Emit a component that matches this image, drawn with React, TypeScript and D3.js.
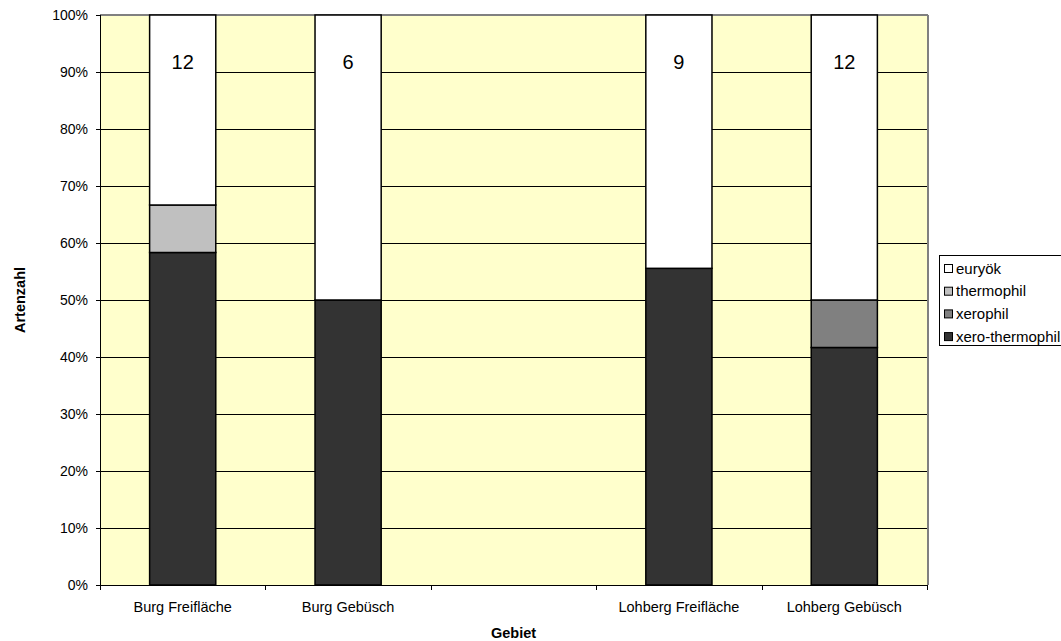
import React from "react";
import * as d3 from "d3";

const categories = ["Burg Freifläche", "Burg Gebüsch", "", "Lohberg Freifläche", "Lohberg Gebüsch"];
const seriesNames = ["xero-thermophil", "xerophil", "thermophil", "euryök"];
const xeroThermophil = [7, 3, 0, 5, 5];
const xerophil = [0, 0, 0, 0, 1];
const thermophil = [1, 0, 0, 0, 0];
const euryoek = [4, 3, 0, 4, 6];
const yTicks = [0, 0.1, 0.2, 0.3, 0.4, 0.5, 0.6, 0.7, 0.8, 0.9, 1];
const colors = ["#333333", "#808080", "#C0C0C0", "#FFFFFF"];

const FONT = "'Liberation Sans', Arial, sans-serif";

export default function App() {
  const W = 1061, H = 641;
  const left = 100, right = 927, top = 15, bottom = 585;
  const series = [xeroThermophil, xerophil, thermophil, euryoek];
  const rows = categories.map((c, i) => {
    const r: any = { cat: c, idx: i };
    seriesNames.forEach((s, k) => (r[s] = series[k][i]));
    return r;
  });
  const totals = categories.map((_, i) => series.reduce((a, s) => a + s[i], 0));
  const norm = rows.map((r, i) => {
    const o: any = { cat: r.cat, idx: i };
    seriesNames.forEach((s) => (o[s] = totals[i] ? r[s] / totals[i] : 0));
    return o;
  });
  const stacked = d3.stack<any>().keys(seriesNames)(norm);

  const x = d3.scaleBand<number>().domain(categories.map((_, i) => i)).range([left, right]).paddingInner(0).paddingOuter(0);
  const bw = x.bandwidth() * 0.4;
  const y = d3.scaleLinear().domain([0, 1]).range([bottom, top]);

  const legendItems = seriesNames.map((s, k) => ({ s, c: colors[k] })).reverse();

  return (
    <svg width={W} height={H} style={{ position: "absolute", left: 0, top: 0 }} fontFamily={FONT}>
      <rect x={0} y={0} width={W} height={H} fill="#fff" />
      <rect x={left} y={top} width={right - left} height={bottom - top} fill="#FFFFCC" />
      {yTicks.filter((t) => t > 0 && t < 1).map((t) => (
        <line key={t} x1={left} x2={right} y1={Math.round(y(t)) + 0.5} y2={Math.round(y(t)) + 0.5} stroke="#000" strokeWidth={1} />
      ))}
      <line x1={left} x2={right + 1} y1={top} y2={top} stroke="#808080" strokeWidth={2} />
      <line x1={right + 1} x2={right + 1} y1={top} y2={bottom} stroke="#808080" strokeWidth={2} />
      {stacked.map((layer, k) => (
        <g key={layer.key}>
          {layer.map((d: any, i: number) =>
            totals[i] && d[1] - d[0] > 0 ? (
              <rect
                key={i}
                x={(x(i) as number) + (x.bandwidth() - bw) / 2}
                y={y(d[1])}
                width={bw}
                height={y(d[0]) - y(d[1])}
                fill={colors[k]}
                stroke="#000"
                strokeWidth={1.5}
              />
            ) : null
          )}
        </g>
      ))}
      {totals.map((t, i) =>
        t ? (
          <text key={i} x={(x(i) as number) + x.bandwidth() / 2} y={y(1) + 54} textAnchor="middle" fontSize={20} fill="#000">
            {t}
          </text>
        ) : null
      )}
      <line x1={left + 0.5} x2={left + 0.5} y1={top} y2={bottom} stroke="#000" />
      <line x1={left} x2={right + 1} y1={bottom + 0.5} y2={bottom + 0.5} stroke="#000" />
      {yTicks.map((t) => (
        <g key={t}>
          <line x1={left - 4} x2={left} y1={Math.round(y(t)) + 0.5} y2={Math.round(y(t)) + 0.5} stroke="#000" />
          <text x={88} y={y(t) + 5} textAnchor="end" fontSize={14} fill="#000">
            {Math.round(t * 100) + "%"}
          </text>
        </g>
      ))}
      {categories.map((c, i) => (
        <text key={i} x={(x(i) as number) + x.bandwidth() / 2} y={612} textAnchor="middle" fontSize={14.5} fill="#000">
          {c}
        </text>
      ))}
      {[...categories.map((_, i) => x(i) as number), right].map((v, i) => (
        <line key={i} x1={Math.round(v) + 0.5} x2={Math.round(v) + 0.5} y1={bottom} y2={bottom + 5} stroke="#000" />
      ))}
      <text x={(left + right) / 2} y={638} textAnchor="middle" fontSize={14.5} fontWeight="bold" fill="#000">
        Gebiet
      </text>
      <text transform={`translate(25,${(top + bottom) / 2}) rotate(-90)`} textAnchor="middle" fontSize={14.5} fontWeight="bold" fill="#000">
        Artenzahl
      </text>
      <rect x={939.5} y={255.5} width={140} height={90} fill="#fff" stroke="#000" />
      {legendItems.map((it, j) => (
        <g key={it.s}>
          <rect x={944.5} y={264.5 + j * 22.7} width={8} height={8} fill={it.c} stroke="#000" />
          <text x={956} y={273.5 + j * 22.7} fontSize={15} fill="#000">
            {it.s}
          </text>
        </g>
      ))}
    </svg>
  );
}
